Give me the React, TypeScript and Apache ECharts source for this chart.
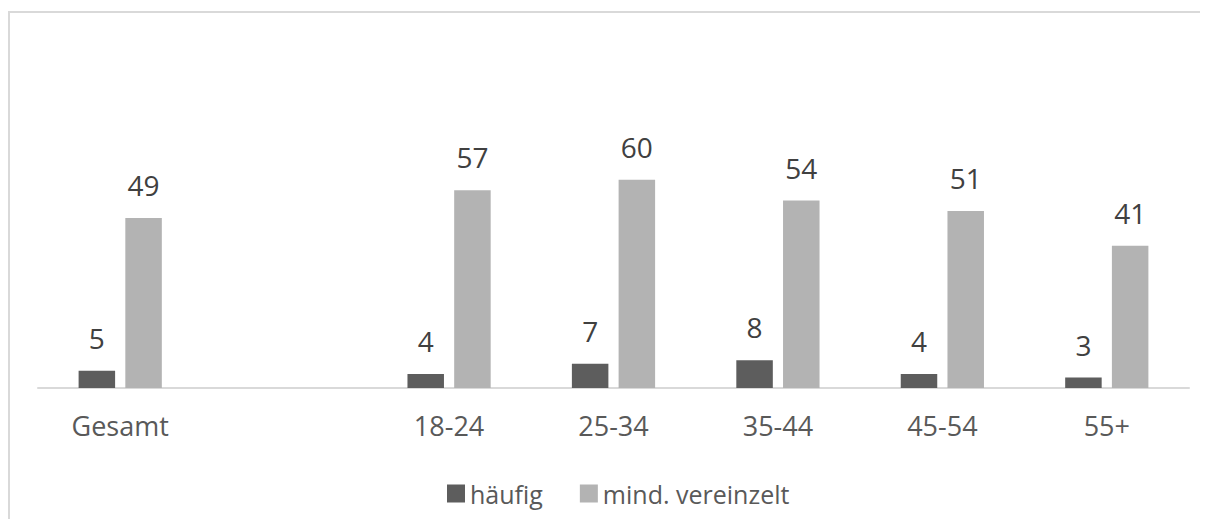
import React, { useEffect, useRef } from "react";
import * as echarts from "echarts";

const categories = ["Gesamt", "", "18-24", "25-34", "35-44", "45-54", "55+"];
const haeufig = [5, null, 4, 7, 8, 4, 3];
const mindVereinzelt = [49, null, 57, 60, 54, 51, 41];
const seriesNames = ["häufig", "mind. vereinzelt"];

const FONT = "'Open Sans', 'Noto Sans', sans-serif";

export default function App() {
  const ref = useRef<HTMLDivElement>(null);
  useEffect(() => {
    if (!ref.current) return;
    const chart = echarts.init(ref.current, null, { renderer: "svg" });
    const label = {
      show: true,
      position: "top",
      distance: 19,
      color: "#404040",
      fontSize: 28,
      fontFamily: FONT,
    };
    chart.setOption({
      animation: false,
      backgroundColor: "#ffffff",
      textStyle: { fontFamily: FONT },
      graphic: [
        {
          type: "line",
          shape: { x1: 1, y1: 3, x2: 1, y2: 600 },
          style: { stroke: "#d9d9d9", lineWidth: 2 },
          silent: true,
        },
        {
          type: "line",
          shape: { x1: 0, y1: 4, x2: 1240, y2: 4 },
          style: { stroke: "#d9d9d9", lineWidth: 2 },
          silent: true,
        },
      ],
      grid: { left: 30, right: 59, top: 137, bottom: 131, containLabel: false },
      legend: {
        left: 439,
        top: 473,
        padding: 0,
        itemWidth: 18,
        itemHeight: 18,
        itemGap: 37,
        icon: "rect",
        textStyle: { fontSize: 25, color: "#595959", fontFamily: FONT, lineHeight: 20 },
        data: seriesNames,
      },
      xAxis: {
        type: "category",
        data: categories,
        axisLine: { show: true, lineStyle: { color: "#d9d9d9", width: 2 } },
        axisTick: { show: false },
        axisLabel: { color: "#595959", fontSize: 27, fontFamily: FONT, margin: 24 },
      },
      yAxis: {
        type: "value",
        min: 0,
        max: 70,
        show: false,
        splitLine: { show: false },
      },
      series: [
        {
          name: seriesNames[0],
          type: "bar",
          data: haeufig,
          barWidth: 36.5,
          barGap: "28%",
          itemStyle: { color: "#5d5d5d" },
          label,
        },
        {
          name: seriesNames[1],
          type: "bar",
          data: mindVereinzelt,
          barWidth: 36.5,
          barGap: "28%",
          itemStyle: { color: "#b3b3b3" },
          label,
        },
      ],
    });
    return () => chart.dispose();
  }, []);
  return (
    <div style={{ width: 1200, height: 511, overflow: "hidden" }}>
      <div ref={ref} style={{ width: 1240, height: 511 }} />
    </div>
  );
}
